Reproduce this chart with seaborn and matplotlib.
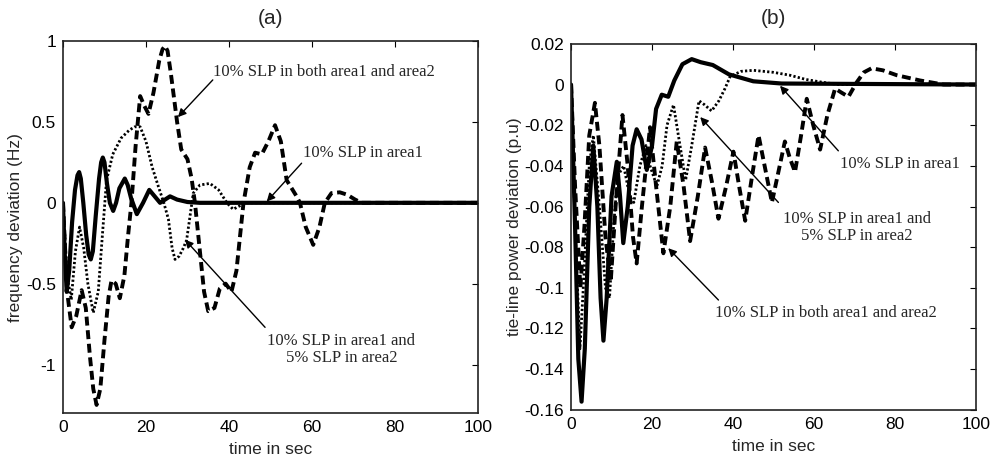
import pandas as pd
import matplotlib
matplotlib.use("Agg")
import matplotlib.pyplot as plt
import seaborn as sns
from matplotlib.ticker import FuncFormatter

# ---- (a) frequency deviation (Hz) ----
ta_solid = [0, 0.4, 0.9, 1.5, 2.2, 2.9, 3.5, 3.9, 4.3, 4.9, 5.6, 6.2, 6.7, 7.2, 7.9, 8.7, 9.2, 9.6, 10.0,
            10.6, 11.3, 12.1, 12.8, 13.6, 14.9, 15.6, 16.4, 17.8, 19.3, 20.8, 22.1, 23.4, 24.6, 25.8,
            27.5, 30, 33, 100]
fa_solid = [0, -0.3, -0.55, -0.42, -0.12, 0.08, 0.17, 0.19, 0.15, 0.0, -0.2, -0.32, -0.35, -0.3, -0.08,
            0.15, 0.25, 0.28, 0.25, 0.12, 0.0, -0.05, 0.0, 0.09, 0.15, 0.11, 0.03, -0.07, 0.0, 0.08,
            0.04, 0.0, 0.02, 0.04, 0.02, 0.005, 0, 0]

ta_both = [0, 1, 2.1, 3.2, 4.5, 5.5, 6.5, 7.3, 8.1, 9, 10, 11, 11.7, 12.7, 13.7, 14.8, 15.7, 16.5,
           17.5, 18.6, 19.6, 20.6, 21.8, 23.2, 24.0, 24.6, 25.2, 26, 27.5, 28.5, 30, 31, 31.8, 33,
           34, 35, 36.5, 37.8, 39.2, 40.6, 41.8, 43.5, 45, 46.3, 47.9, 49.5, 51.1, 52.5, 53.9,
           56.3, 57.1, 58.5, 60.3, 61.8, 63.1, 64.7, 66.7, 68.5, 70.4, 72, 100]
fa_both = [0, -0.55, -0.77, -0.7, -0.54, -0.65, -0.95, -1.15, -1.25, -1.15, -0.85, -0.58, -0.48,
           -0.5, -0.59, -0.45, -0.2, 0.0, 0.35, 0.66, 0.6, 0.55, 0.68, 0.88, 0.95, 0.97, 0.94,
           0.8, 0.5, 0.33, 0.27, 0.15, 0.0, -0.3, -0.55, -0.67, -0.65, -0.53, -0.5, -0.55, -0.42,
           0.0, 0.22, 0.31, 0.3, 0.38, 0.48, 0.38, 0.14, 0.04, 0.0, -0.15, -0.26, -0.15, 0.0,
           0.06, 0.065, 0.05, 0.02, 0.0, 0]

ta_mix = [0, 1, 2, 3, 4, 5, 6, 7.3, 8.5, 9.5, 10.5, 12, 14, 16, 17.3, 18.6, 20, 21.5, 23, 24.3,
          25.4, 26.3, 27, 28, 29, 29.8, 31.4, 33, 35.4, 37.5, 39.5, 41, 42.5, 44, 46, 100]
fa_mix = [0, -0.45, -0.6, -0.3, -0.15, -0.28, -0.5, -0.68, -0.55, -0.2, 0.14, 0.3, 0.4, 0.45, 0.47,
          0.47, 0.38, 0.22, 0.1, 0.0, -0.1, -0.28, -0.35, -0.33, -0.28, -0.23, 0.06, 0.11, 0.12,
          0.08, 0.0, -0.04, -0.02, 0.0, 0.0, 0.0]

# ---- (b) tie-line power deviation (p.u) ----
tb_solid = [0, 1, 1.8, 2.6, 3.4, 4.5, 5.5, 6.5, 7.3, 8.0, 8.8, 10, 11.3, 12.1, 12.9, 14, 15.2, 16.2,
            17.4, 18.7, 20, 21, 22.4, 24, 25.5, 27.5, 29.8, 32, 35, 39, 45, 52, 100]
pb_solid = [0, -0.07, -0.135, -0.156, -0.13, -0.06, -0.03, -0.06, -0.105, -0.126, -0.105, -0.055,
            -0.038, -0.055, -0.078, -0.06, -0.03, -0.022, -0.027, -0.042, -0.03, -0.012, -0.005,
            -0.006, 0.002, 0.010, 0.0125, 0.011, 0.0096, 0.005, 0.0016, 0.0005, 0]

tb_both = [0, 1, 2.3, 3.3, 4.5, 5.9, 7, 8.5, 9.8, 11, 12.7, 14, 15.3, 16.2, 17.5, 19.5, 21, 22.8,
           24.5, 26.1, 27.8, 29.4, 31.3, 33.1, 34.8, 36.4, 38.3, 40.1, 41.5, 43, 44.7, 46.3, 48,
           49.6, 51.2, 52.8, 54, 55.3, 56.8, 58.2, 59.8, 61.5, 63.3, 65.2, 66.8, 68.5, 70.5,
           72.3, 74.2, 77, 80.4, 86.2, 92, 100]
pb_both = [0, -0.05, -0.1, -0.07, -0.025, -0.009, -0.03, -0.075, -0.097, -0.06, -0.015, -0.04,
           -0.075, -0.088, -0.06, -0.021, -0.05, -0.083, -0.06, -0.028, -0.05, -0.077, -0.055,
           -0.031, -0.048, -0.066, -0.05, -0.033, -0.05, -0.067, -0.045, -0.025, -0.042, -0.058,
           -0.043, -0.028, -0.036, -0.043, -0.025, -0.007, -0.02, -0.032, -0.015, -0.002, -0.004,
           -0.006, 0.001, 0.006, 0.008, 0.007, 0.0046, 0.002, 0, 0]

tb_mix = [0, 1, 2.2, 3.3, 4.5, 5.5, 7, 8.5, 9.5, 10.5, 11.5, 13, 14.5, 15.5, 17, 18.5, 19.5, 21.2,
          22.5, 23.7, 25.3, 26.5, 28.3, 29.8, 31.6, 33, 34.7, 36.5, 38, 39.3, 42, 45, 50, 54, 58,
          61.5, 66, 100]
pb_mix = [0, -0.07, -0.13, -0.09, -0.04, -0.025, -0.06, -0.1, -0.105, -0.07, -0.045, -0.04, -0.055,
          -0.058, -0.04, -0.03, -0.04, -0.05, -0.04, -0.02, -0.01, -0.025, -0.047, -0.03, -0.008,
          -0.01, -0.013, -0.008, -0.002, 0.004, 0.0065, 0.007, 0.006, 0.0046, 0.0025, 0.0013, 0, 0]

lbl_area1 = "10% SLP in area1"
lbl_both = "10% SLP in both area1 and area2"
lbl_mix = "10% SLP in area1 and\n5% SLP in area2"

sns.set_style("white")
plt.rcParams['font.family'] = ['Liberation Sans', 'DejaVu Sans']
plt.rcParams['axes.unicode_minus'] = False

fig = plt.figure(figsize=(9.9, 4.62), dpi=100)
ax1 = fig.add_axes([0.0636, 0.106, 0.4192, 0.805])
ax2 = fig.add_axes([0.5768, 0.113, 0.4091, 0.792])

solid_kw = dict(color='black', linewidth=3.0, solid_capstyle='round', solid_joinstyle='round')
dash_kw = dict(color='black', linewidth=2.8, linestyle=(0, (2.3, 1.2)))
dot_kw = dict(color='black', linewidth=2.0, linestyle=(0, (0.8, 0.8)))


def draw(ax, t_mix, v_mix, t_both, v_both, t_solid, v_solid):
    sns.lineplot(data=pd.DataFrame({'t': t_mix, 'v': v_mix}), x='t', y='v', ax=ax,
                 estimator=None, sort=False, **dot_kw)
    sns.lineplot(data=pd.DataFrame({'t': t_both, 'v': v_both}), x='t', y='v', ax=ax,
                 estimator=None, sort=False, **dash_kw)
    sns.lineplot(data=pd.DataFrame({'t': t_solid, 'v': v_solid}), x='t', y='v', ax=ax,
                 estimator=None, sort=False, **solid_kw)


draw(ax1, ta_mix, fa_mix, ta_both, fa_both, ta_solid, fa_solid)
draw(ax2, tb_mix, pb_mix, tb_both, pb_both, tb_solid, pb_solid)

ax1.set_xlim(0, 100)
ax1.set_ylim(-1.3, 1)
ax1.set_yticks([-1, -0.5, 0, 0.5, 1])
ax2.set_xlim(0, 100)
ax2.set_ylim(-0.16, 0.02)
ax2.set_yticks([-0.16, -0.14, -0.12, -0.1, -0.08, -0.06, -0.04, -0.02, 0, 0.02])

fmt = FuncFormatter(lambda v, p: '%g' % round(v, 4))
for ax in (ax1, ax2):
    ax.set_xticks([0, 20, 40, 60, 80, 100])
    ax.xaxis.set_major_formatter(fmt)
    ax.yaxis.set_major_formatter(fmt)
    ax.tick_params(direction='in', length=4, width=0.8, top=True, right=True,
                   labelsize=12.5, colors='black', pad=5)
    for s in ax.spines.values():
        s.set_color('#222222')
        s.set_linewidth(1.2)
    ax.set_xlabel('time in sec', fontsize=12.5, labelpad=5)

ax1.set_ylabel('frequency deviation (Hz)', fontsize=12.5, labelpad=2)
ax2.set_ylabel('tie-line power deviation (p.u)', fontsize=12.5, labelpad=2)
ax1.set_title('(a)', fontsize=15, pad=12)
ax2.set_title('(b)', fontsize=15, pad=14)

serif = ['Liberation Serif', 'DejaVu Serif']
arrow = dict(arrowstyle='-|>', color='black', lw=1.0, mutation_scale=12, shrinkA=0, shrinkB=0)

# text boxes and arrows for panel (a)
ax1.text(36.1, 0.81, lbl_both, family=serif, fontsize=12, ha='left', va='center')
ax1.annotate('', xy=(27.7, 0.53), xytext=(36.1, 0.76), arrowprops=arrow)
ax1.text(57.8, 0.31, lbl_area1, family=serif, fontsize=12, ha='left', va='center')
ax1.annotate('', xy=(49.1, 0.008), xytext=(57.5, 0.245), arrowprops=arrow)
ax1.text(67.1, -0.907, lbl_mix, family=serif, fontsize=12, ha='center', va='center',
         multialignment='center', linespacing=1.1)
ax1.annotate('', xy=(29.4, -0.228), xytext=(48.7, -0.77), arrowprops=arrow)

# panel (b)
ax2.text(66.4, -0.0392, lbl_area1, family=serif, fontsize=12, ha='left', va='center')
ax2.annotate('', xy=(51.6, -0.0006), xytext=(66.0, -0.0326), arrowprops=arrow)
ax2.text(70.5, -0.0704, lbl_mix, family=serif, fontsize=12, ha='center', va='center',
         multialignment='center', linespacing=1.1)
ax2.annotate('', xy=(31.9, -0.016), xytext=(51.2, -0.058), arrowprops=arrow)
ax2.text(35.6, -0.1125, lbl_both, family=serif, fontsize=12, ha='left', va='center')
ax2.annotate('', xy=(24.0, -0.0805), xytext=(36.4, -0.106), arrowprops=arrow)

fig.savefig('out.png', dpi=100)
